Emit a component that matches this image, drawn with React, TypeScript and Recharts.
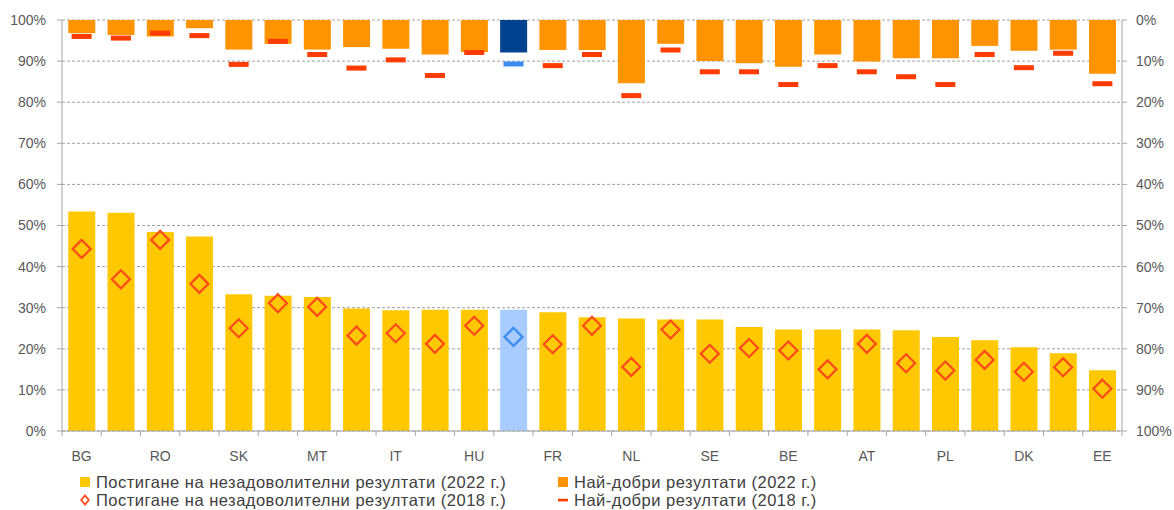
import React from "react";
import { ComposedChart, Bar, Line, XAxis, YAxis, CartesianGrid, Cell } from "recharts";

// PISA 2022 vs 2018, maths: share of low achievers (left axis) and top performers (right axis, reversed)
const countries = [
  "BG", "CY", "RO", "EL", "SK", "HR", "MT", "LU", "IT", "PT", "HU", "EU", "FR", "ES",
  "NL", "LT", "SE", "DE", "BE", "LV", "AT", "CZ", "PL", "SI", "DK", "IE", "EE",
];
const lowAchievers2022 = [
  53.4, 53.1, 48.4, 47.3, 33.3, 32.9, 32.6, 29.8, 29.4, 29.5, 29.5, 29.5, 28.9, 27.7,
  27.4, 27.1, 27.1, 25.3, 24.7, 24.7, 24.7, 24.5, 22.9, 22.1, 20.4, 18.9, 14.8,
];
const lowAchievers2018 = [
  44.3, 36.9, 46.5, 35.8, 25.0, 31.1, 30.2, 23.2, 23.8, 21.2, 25.6, 22.9, 21.1, 25.6,
  15.6, 24.7, 18.8, 20.2, 19.6, 15.0, 21.2, 16.5, 14.7, 17.3, 14.4, 15.5, 10.3,
];
const topPerformers2022 = [
  3.2, 3.65, 4.0, 2.0, 7.2, 5.8, 7.2, 6.6, 7.0, 8.4, 7.8, 7.9, 7.3, 7.3,
  15.4, 5.8, 10.0, 10.5, 11.4, 8.4, 10.1, 9.3, 9.3, 6.3, 7.5, 7.2, 13.1,
];
const topPerformers2018 = [
  4.0, 4.4, 3.2, 3.8, 10.8, 5.2, 8.4, 11.7, 9.7, 13.5, 7.9, 10.7, 11.1, 8.4,
  18.4, 7.3, 12.6, 12.6, 15.7, 11.1, 12.6, 13.8, 15.7, 8.4, 11.6, 8.1, 15.5,
];
const percentTicks = [0, 10, 20, 30, 40, 50, 60, 70, 80, 90, 100];
const highlight = "EU";

const legendLabels = {
  low22: "Постигане на незадоволителни резултати (2022 г.)",
  top22: "Най-добри резултати (2022 г.)",
  low18: "Постигане на незадоволителни резултати (2018 г.)",
  top18: "Най-добри резултати (2018 г.)",
};

const data = countries.map((name, i) => ({
  name,
  low22: lowAchievers2022[i],
  low18: lowAchievers2018[i],
  top22: topPerformers2022[i],
  top18: topPerformers2018[i],
}));

const FONT = "'Liberation Sans', Arial, sans-serif";
const AXIS = "#a6a6a6";
const TEXT = "#595959";
const YELLOW = "#ffc800";
const ORANGE = "#ff9400";
const RED = "#ff3c00";
const DIAMOND = "#ff4b1c";
const DARK_BLUE = "#00428f";
const LIGHT_BLUE = "#a8ccff";
const MID_BLUE = "#3a8cf2";

const PLOT_LEFT = 62;
const PLOT_RIGHT = 1122;
const BAND = (PLOT_RIGHT - PLOT_LEFT) / countries.length;
const TICK_SIZE = 5;
const TICK_MARGIN = 15;

const XTick = (props: any) => {
  const { x, y, payload } = props;
  const i = payload.index ?? props.index;
  const axisY = y - TICK_SIZE - TICK_MARGIN;
  const left = x - BAND / 2;
  return (
    <g>
      <line x1={left} x2={left} y1={axisY} y2={axisY + TICK_SIZE} stroke={AXIS} />
      {i === countries.length - 1 && (
        <line x1={x + BAND / 2} x2={x + BAND / 2} y1={axisY} y2={axisY + TICK_SIZE} stroke={AXIS} />
      )}
      {i % 2 === 0 && (
        <text x={x} y={y} dy="0.71em" textAnchor="middle" fill={TEXT} fontSize={14} fontFamily={FONT}>
          {payload.value}
        </text>
      )}
    </g>
  );
};

const DiamondDot = (props: any) => {
  const { cx, cy, index, payload } = props;
  if (cx == null || cy == null) return <g key={index} />;
  const r = 9;
  const color = payload.name === highlight ? MID_BLUE : DIAMOND;
  return (
    <path
      key={index}
      d={`M${cx},${cy - r} L${cx + r},${cy} L${cx},${cy + r} L${cx - r},${cy} Z`}
      fill="none"
      stroke={color}
      strokeWidth={2.2}
    />
  );
};

const DashDot = (props: any) => {
  const { cx, cy, index, payload } = props;
  if (cx == null || cy == null) return <g key={index} />;
  const color = payload.name === highlight ? MID_BLUE : RED;
  return <rect key={index} x={cx - 10} y={cy - 2.5} width={20} height={5} fill={color} />;
};

const LegendItem = ({ x, y, icon, label }: any) => (
  <div
    style={{
      position: "absolute",
      left: x,
      top: y - 9,
      height: 18,
      display: "flex",
      alignItems: "center",
      gap: 6,
      fontSize: 16.5,
      letterSpacing: 0.5,
      lineHeight: "18px",
      color: "#404040",
      whiteSpace: "nowrap",
    }}
  >
    <svg width={10} height={12}>{icon}</svg>
    <span>{label}</span>
  </div>
);

export default function App() {
  return (
    <div
      style={{
        position: "absolute",
        left: 0,
        top: 0,
        width: 1174,
        height: 510,
        background: "#fff",
        fontFamily: FONT,
      }}
    >
      <ComposedChart
        width={1174}
        height={470}
        data={data}
        margin={{ top: 20, right: 0, bottom: 9, left: 0 }}
        barCategoryGap="16%"
      >
        <CartesianGrid
          xAxisId="a"
          yAxisId="left"
          vertical={false}
          strokeDasharray="3 2"
          stroke="#a0a0a0"
        />
        <XAxis
          xAxisId="a"
          dataKey="name"
          interval={0}
          height={30}
          tickSize={TICK_SIZE}
          tickMargin={TICK_MARGIN}
          tickLine={false}
          axisLine={{ stroke: AXIS }}
          tick={<XTick />}
        />
        <XAxis xAxisId="b" dataKey="name" hide />
        <YAxis
          yAxisId="left"
          width={62}
          domain={[0, 100]}
          ticks={percentTicks}
          tickFormatter={(v) => `${v}%`}
          tickSize={5}
          tickMargin={11}
          tickLine={{ stroke: AXIS }}
          axisLine={{ stroke: AXIS }}
          tick={{ fill: TEXT, fontSize: 14, fontFamily: FONT }}
        />
        <YAxis
          yAxisId="right"
          orientation="right"
          width={52}
          domain={[0, 100]}
          reversed
          ticks={percentTicks}
          tickFormatter={(v) => `${v}%`}
          tickSize={5}
          tickMargin={9}
          tickLine={{ stroke: AXIS }}
          axisLine={{ stroke: AXIS }}
          tick={{ fill: TEXT, fontSize: 14, fontFamily: FONT, textAnchor: "start" }}
        />
        <Bar xAxisId="a" yAxisId="left" dataKey="low22" fill={YELLOW} isAnimationActive={false}>
          {data.map((d) => (
            <Cell key={d.name} fill={d.name === highlight ? LIGHT_BLUE : YELLOW} />
          ))}
        </Bar>
        <Bar xAxisId="b" yAxisId="right" dataKey="top22" fill={ORANGE} isAnimationActive={false}>
          {data.map((d) => (
            <Cell key={d.name} fill={d.name === highlight ? DARK_BLUE : ORANGE} />
          ))}
        </Bar>
        <Line
          xAxisId="a"
          yAxisId="left"
          dataKey="low18"
          stroke="none"
          strokeWidth={0}
          dot={(p: any) => <DiamondDot {...p} />}
          activeDot={false}
          isAnimationActive={false}
        />
        <Line
          xAxisId="a"
          yAxisId="right"
          dataKey="top18"
          stroke="none"
          strokeWidth={0}
          dot={(p: any) => <DashDot {...p} />}
          activeDot={false}
          isAnimationActive={false}
        />
      </ComposedChart>
      <LegendItem
        x={80}
        y={482}
        label={legendLabels.low22}
        icon={<rect x={0} y={1} width={10} height={10} fill={YELLOW} />}
      />
      <LegendItem
        x={558}
        y={482}
        label={legendLabels.top22}
        icon={<rect x={0} y={1} width={10} height={10} fill={ORANGE} />}
      />
      <LegendItem
        x={80}
        y={500}
        label={legendLabels.low18}
        icon={<path d="M5,1.5 L8.8,6 L5,10.5 L1.2,6 Z" fill="none" stroke={DIAMOND} strokeWidth={1.8} />}
      />
      <LegendItem
        x={558}
        y={500}
        label={legendLabels.top18}
        icon={<rect x={0} y={4.8} width={10} height={2.6} fill={RED} />}
      />
    </div>
  );
}
